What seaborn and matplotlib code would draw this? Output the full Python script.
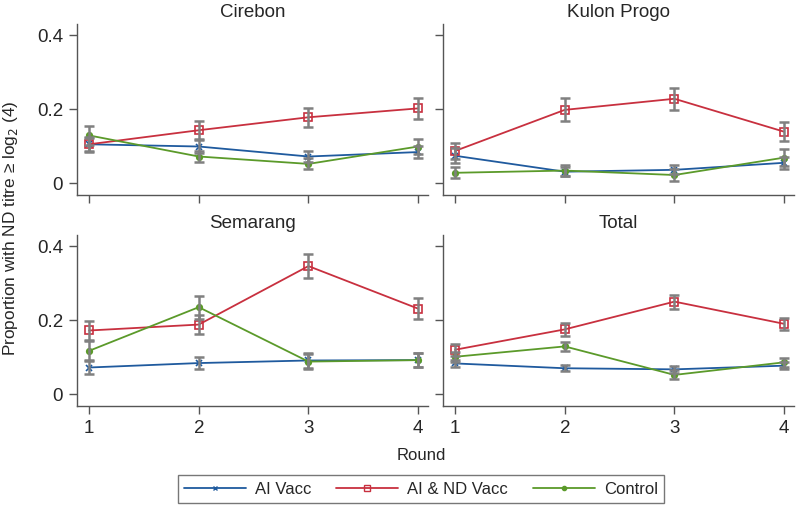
import numpy as np
import pandas as pd
import matplotlib
matplotlib.use("Agg")
import matplotlib.pyplot as plt
import seaborn as sns
from matplotlib.lines import Line2D

# --- Dane ---
rounds = [1, 2, 3, 4]
regions = ["Cirebon", "Kulon Progo", "Semarang", "Total"]
groups = ["AI Vacc", "AI & ND Vacc", "Control"]

# kolejnosc regionow jak w `regions`
ai_vacc = [[0.105, 0.099, 0.072, 0.084],
           [0.074, 0.031, 0.036, 0.055],
           [0.072, 0.084, 0.091, 0.092],
           [0.083, 0.070, 0.067, 0.077]]
ai_vacc_err = [[0.018, 0.017, 0.016, 0.017],
               [0.020, 0.012, 0.012, 0.016],
               [0.018, 0.017, 0.020, 0.018],
               [0.010, 0.008, 0.009, 0.009]]

ai_nd_vacc = [[0.105, 0.143, 0.178, 0.202],
              [0.087, 0.198, 0.228, 0.139],
              [0.172, 0.188, 0.346, 0.231],
              [0.120, 0.175, 0.250, 0.190]]
ai_nd_vacc_err = [[0.020, 0.025, 0.026, 0.028],
                  [0.022, 0.031, 0.030, 0.025],
                  [0.025, 0.025, 0.033, 0.029],
                  [0.016, 0.017, 0.019, 0.016]]

control = [[0.129, 0.072, 0.052, 0.099],
           [0.028, 0.034, 0.022, 0.069],
           [0.117, 0.235, 0.088, 0.092],
           [0.101, 0.129, 0.052, 0.086]]
control_err = [[0.025, 0.015, 0.015, 0.020],
               [0.015, 0.015, 0.015, 0.023],
               [0.026, 0.031, 0.020, 0.018],
               [0.013, 0.013, 0.012, 0.012]]

colors = {"AI Vacc": "#1f5a9e", "AI & ND Vacc": "#c8303f", "Control": "#5b9a2a"}
markers = {"AI Vacc": "x", "AI & ND Vacc": "s", "Control": "o"}
msizes = {"AI Vacc": 4, "AI & ND Vacc": 6, "Control": 4}

# --- Tabela w formacie dlugim ---
rows = []
for gname, vals, errs in [("AI Vacc", ai_vacc, ai_vacc_err),
                          ("AI & ND Vacc", ai_nd_vacc, ai_nd_vacc_err),
                          ("Control", control, control_err)]:
    for i, reg in enumerate(regions):
        for j, r in enumerate(rounds):
            rows.append({"region": reg, "group": gname, "round": r,
                         "prop": vals[i][j], "err": errs[i][j]})
df = pd.DataFrame(rows)

sns.set_style("white")
plt.rcParams["font.family"] = ["Liberation Sans", "DejaVu Sans"]

fig = plt.figure(figsize=(7.97, 5.07), dpi=100)
W, H = 797, 507
boxes = [(77, 24), (443, 24), (77, 235), (443, 235)]
pw, ph = 351, 171
spine_col = "#555555"

for k, reg in enumerate(regions):
    x0, y0 = boxes[k]
    ax = fig.add_axes([x0 / W, (H - y0 - ph) / H, pw / W, ph / H])
    sub = df[df["region"] == reg]
    for g in groups:
        d = sub[sub["group"] == g]
        sns.lineplot(data=d, x="round", y="prop", ax=ax, color=colors[g],
                     marker=markers[g], markersize=msizes[g], lw=1.3,
                     markerfacecolor="none" if g == "AI & ND Vacc" else colors[g],
                     markeredgecolor=colors[g], markeredgewidth=1.2,
                     errorbar=None, legend=False)
    for g in groups:
        d = sub[sub["group"] == g]
        ax.errorbar(d["round"], d["prop"], yerr=d["err"], fmt="none",
                    ecolor="#808080", elinewidth=1.8, capsize=3.5,
                    capthick=1.8, zorder=5)
    ax.set_xlim(0.89, 4.09)
    ax.set_ylim(-0.032, 0.43)
    ax.set_xticks(rounds)
    ax.set_yticks([0, 0.2, 0.4])
    ax.set_xlabel("")
    ax.set_ylabel("")
    ax.set_title(reg, fontsize=13.5, pad=5)
    sns.despine(ax=ax)
    for s in ["left", "bottom"]:
        ax.spines[s].set_color(spine_col)
        ax.spines[s].set_linewidth(1.0)
    ax.tick_params(axis="both", direction="out", length=6, width=1.0,
                   color=spine_col, labelsize=13.5, pad=4,
                   bottom=True, left=True)
    if k % 2 == 0:
        ax.set_yticklabels(["0", "0.2", "0.4"])
    else:
        ax.set_yticklabels([])
    if k < 2:
        ax.set_xticklabels([])
    else:
        ax.set_xticklabels([str(r) for r in rounds])

fig.text(11 / W, 1 - 228 / H, r"Proportion with ND titre ≥ log$_2$ (4)",
         rotation=90, ha="center", va="center", fontsize=12.4)
fig.text(421 / W, 1 - 455 / H, "Round", ha="center", va="center", fontsize=12)

handles = [Line2D([0], [0], color=colors[g], lw=1.3, marker=markers[g],
                  markersize=msizes[g] - 1,
                  markerfacecolor="none" if g == "AI & ND Vacc" else colors[g],
                  markeredgecolor=colors[g]) for g in groups]
leg = fig.legend(handles, groups, loc="center", ncol=3,
                 bbox_to_anchor=(421 / W, 1 - 489 / H), frameon=True,
                 fontsize=12, handlelength=3.7, columnspacing=1.5,
                 handletextpad=0.55, borderpad=0.4, fancybox=False)
leg.get_frame().set_edgecolor("#555555")
leg.get_frame().set_linewidth(1.0)

plt.savefig("out.png", dpi=100)
plt.close()
